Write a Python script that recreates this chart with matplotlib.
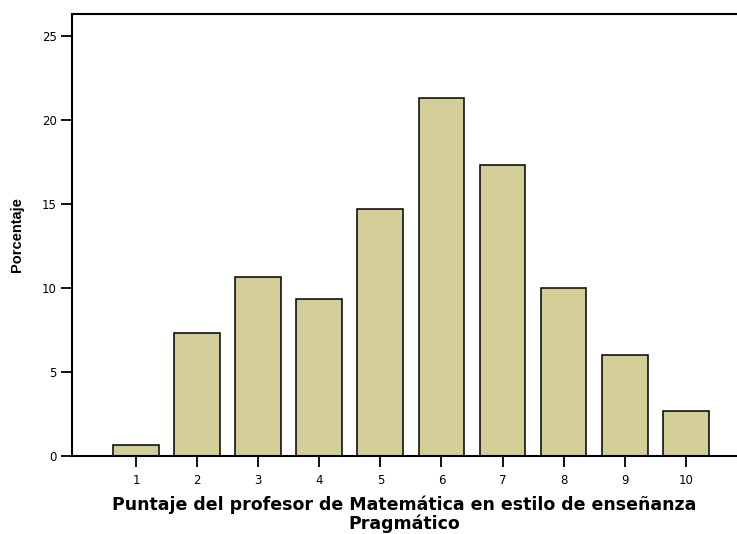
import numpy as np
import matplotlib
matplotlib.use('Agg')
import matplotlib.pyplot as plt

plt.rcParams['font.family'] = ['Liberation Sans', 'DejaVu Sans']

scores = [1, 2, 3, 4, 5, 6, 7, 8, 9, 10]
percent = [0.67, 7.33, 10.67, 9.33, 14.67, 21.33, 17.33, 10.0, 6.0, 2.67]
yticks = [0, 5, 10, 15, 20, 25]

fig = plt.figure(figsize=(7.37, 5.34), dpi=100)
ax = fig.add_axes([72 / 737, 78 / 534, 1 - 72 / 737, (456 - 14) / 534])

ax.bar(scores, percent, width=0.75, color='#d3cd98', edgecolor='black', linewidth=1.1)

ax.set_xlim(-0.05, 10.84)
ax.set_ylim(0, 26.3)
ax.set_xticks(scores)
ax.set_yticks(yticks)
ax.tick_params(axis='both', direction='out', length=8, width=1.3, labelsize=8.5)
ax.tick_params(axis='x', pad=5)
ax.tick_params(axis='y', pad=3)
for lab in ax.get_xticklabels() + ax.get_yticklabels():
    lab.set_family('DejaVu Sans')

for s in ['left', 'bottom', 'top']:
    ax.spines[s].set_linewidth(1.5)
ax.spines['right'].set_visible(False)

ax.set_ylabel('Porcentaje', fontsize=10.5, fontweight='bold', labelpad=13)
ax.set_xlabel('Puntaje del profesor de Matemática en estilo de enseñanza\nPragmático',
              fontsize=12.5, fontweight='bold', labelpad=6, linespacing=1.05,
              family='DejaVu Sans')

fig.savefig('out.png', dpi=100)
